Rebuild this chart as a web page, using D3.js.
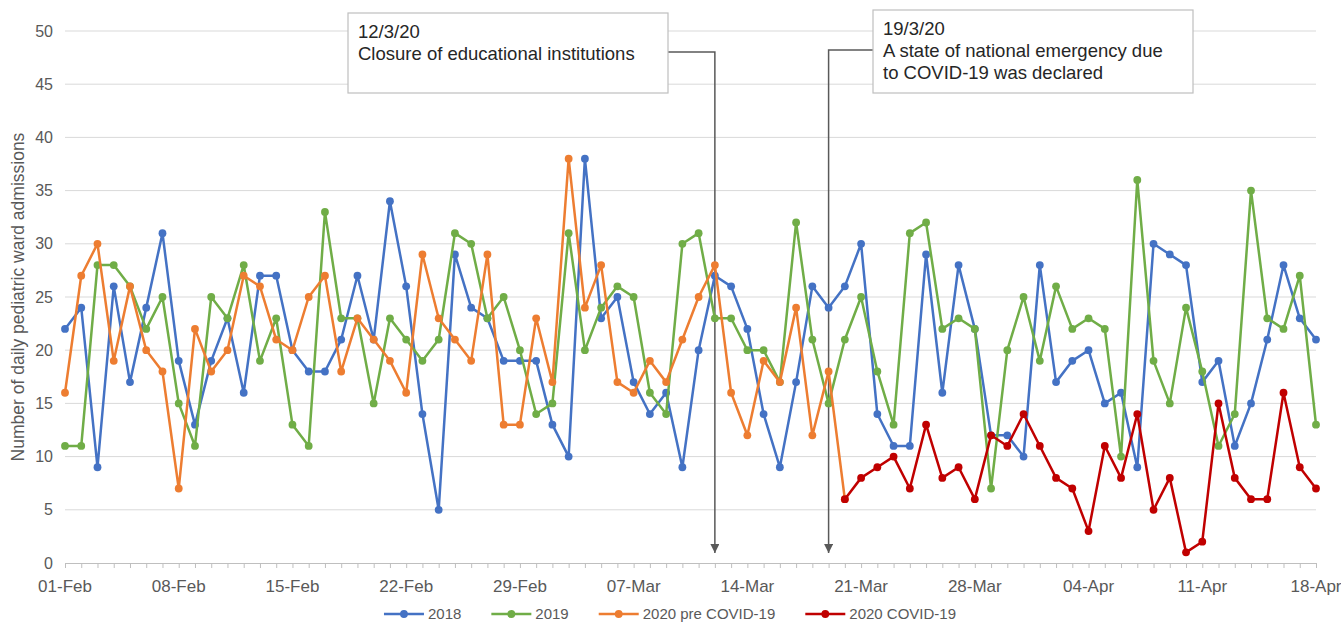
<!DOCTYPE html>
<html>
<head>
<meta charset="utf-8">
<script src="https://cdn.jsdelivr.net/npm/d3@7"></script>
<style>
  body { margin: 0; background: #fff; }
  svg { display: block; font-family: "Liberation Sans", Arial, sans-serif; }
</style>
</head>
<body>
<script>
// daily admissions, one value per day from 01-Feb
const firstDay = "2020-02-01";
const lastDay = "2020-04-18";

const s2018 = [22,24,9,26,17,24,31,19,13,19,
  23,16,27,27,20,18,18,21,27,21,
  34,26,14,5,29,24,23,19,19,19,
  13,10,38,23,25,17,14,16,9,20,
  27,26,22,14,9,17,26,24,26,30,
  14,11,11,29,16,28,22,12,12,10,
  28,17,19,20,15,16,9,30,29,28,
  17,19,11,15,21,28,23,21];

const s2019 = [11,11,28,28,26,22,25,15,11,25,
  23,28,19,23,13,11,33,23,23,15,
  23,21,19,21,31,30,23,25,20,14,
  15,31,20,24,26,25,16,14,30,31,
  23,23,20,20,17,32,21,15,21,25,
  18,13,31,32,22,23,22,7,20,25,
  19,26,22,23,22,10,36,19,15,24,
  18,11,14,35,23,22,27,13];

// 2020 before and after 20-Mar
const s2020pre = [16,27,30,19,26,20,18,7,22,18,
  20,27,26,21,20,25,27,18,23,21,
  19,16,29,23,21,19,29,13,13,23,
  17,38,24,28,17,16,19,17,21,25,
  28,16,12,19,17,24,12,18,6];
const covidFrom = "2020-03-20";
const s2020covid = [6,8,9,10,7,13,8,9,6,12,11,14,
  11,8,7,3,11,8,14,5,8,1,2,15,8,6,6,16,9,7];

const seriesNames = ["2018", "2019", "2020 pre COVID-19", "2020 COVID-19"];
const seriesColors = ["#4472c4", "#70ad47", "#ed7d31", "#c00000"];

const yTicks = [0,5,10,15,20,25,30,35,40,45,50];
const xTickLabels = ["01-Feb","08-Feb","15-Feb","22-Feb","29-Feb","07-Mar",
  "14-Mar","21-Mar","28-Mar","04-Apr","11-Apr","18-Apr"];

const events = [
  {date: "2020-03-12", lines: ["12/3/20", "Closure of educational institutions"]},
  {date: "2020-03-19", lines: ["19/3/20", "A state of national emergency due", "to COVID-19 was declared"]}
];

const W = 1341, H = 623;
const parse = d3.utcParse("%Y-%m-%d");
const days = d3.utcDay.range(parse(firstDay), d3.utcDay.offset(parse(lastDay), 1));
const covidIdx = days.findIndex(d => +d === +parse(covidFrom));

const x = d3.scaleUtc().domain([days[0], days[days.length - 1]]).range([65, 1316]);
const y = d3.scaleLinear().domain([0, 50]).range([563, 31]);

const svg = d3.select("body").append("svg")
    .attr("width", W)
    .attr("height", H);

svg.append("defs").append("marker")
    .attr("id", "arrow")
    .attr("viewBox", "0 0 10 10")
    .attr("refX", 5).attr("refY", 10)
    .attr("markerWidth", 9).attr("markerHeight", 10)
    .attr("markerUnits", "userSpaceOnUse")
    .attr("orient", "0")
  .append("path")
    .attr("d", "M0,0L10,0L5,10Z")
    .attr("fill", "#595959");

// grid
svg.append("g")
  .selectAll("line")
  .data(yTicks.filter(d => d > 0))
  .join("line")
    .attr("x1", x.range()[0]).attr("x2", x.range()[1])
    .attr("y1", d => y(d)).attr("y2", d => y(d))
    .attr("stroke", "#d9d9d9")
    .attr("stroke-width", 1);

// y labels
svg.append("g")
    .attr("fill", "#595959")
    .style("font-size", "16px")
  .selectAll("text")
  .data(yTicks)
  .join("text")
    .attr("x", 53)
    .attr("y", d => y(d))
    .attr("dy", "0.35em")
    .attr("text-anchor", "end")
    .text(d => d);

svg.append("text")
    .attr("transform", `translate(24,${y(25)}) rotate(-90)`)
    .attr("text-anchor", "middle")
    .attr("fill", "#595959")
    .style("font-size", "17.5px")
    .text("Number of daily pediatric ward admissions");

// x axis
const xAxis = svg.append("g")
    .attr("transform", `translate(0,${y(0)})`)
    .call(d3.axisBottom(x).tickValues(days).tickSize(5).tickFormat(""));
xAxis.select(".domain").attr("stroke", "#bfbfbf");
xAxis.selectAll(".tick line").attr("stroke", "#bfbfbf");

svg.append("g")
    .attr("fill", "#595959")
    .style("font-size", "17px")
  .selectAll("text")
  .data(xTickLabels)
  .join("text")
    .attr("x", (d, i) => x(days[i * 7]))
    .attr("y", 592)
    .attr("text-anchor", "middle")
    .text(d => d);

// annotations
const boxes = [
  {x: 348, y: 13, w: 320, h: 80, hook: 52, side: "right"},
  {x: 873, y: 10, w: 320, h: 83, hook: 50, side: "left"}
];
events.forEach((ev, i) => {
  const b = boxes[i];
  const ax = x(parse(ev.date));
  const sx = b.side === "right" ? b.x + b.w : b.x;
  svg.append("path")
      .attr("d", `M${sx},${b.hook}H${ax}V${y(0) - 10}`)
      .attr("fill", "none")
      .attr("stroke", "#595959")
      .attr("stroke-width", 1.5)
      .attr("marker-end", "url(#arrow)");
  svg.append("rect")
      .attr("x", b.x).attr("y", b.y)
      .attr("width", b.w).attr("height", b.h)
      .attr("fill", "#fff")
      .attr("stroke", "#bfbfbf")
      .attr("stroke-width", 1.2);
  svg.append("text")
      .attr("fill", "#262626")
      .style("font-size", "18.5px")
    .selectAll("tspan")
    .data(ev.lines)
    .join("tspan")
      .attr("x", b.x + 10)
      .attr("y", (d, j) => b.y + 25 + j * 22)
      .text(d => d);
});

// series
const series = [
  {values: s2018, start: 0},
  {values: s2019, start: 0},
  {values: s2020pre, start: 0},
  {values: s2020covid, start: covidIdx}
];
const line = d3.line()
    .x(d => x(d.date))
    .y(d => y(d.value));

series.forEach((s, i) => {
  const pts = s.values.map((v, j) => ({date: days[s.start + j], value: v}));
  const g = svg.append("g");
  g.append("path")
      .datum(pts)
      .attr("d", line)
      .attr("fill", "none")
      .attr("stroke", seriesColors[i])
      .attr("stroke-width", 2.5)
      .attr("stroke-linejoin", "round");
  g.selectAll("circle")
    .data(pts)
    .join("circle")
      .attr("cx", d => x(d.date))
      .attr("cy", d => y(d.value))
      .attr("r", 3.9)
      .attr("fill", seriesColors[i]);
});

// legend
const legend = svg.append("g")
    .style("font-size", "15px")
    .attr("fill", "#595959");
let lx = 0;
seriesNames.forEach((name, i) => {
  const g = legend.append("g").attr("transform", `translate(${lx},0)`);
  g.append("line")
      .attr("x1", 0).attr("x2", 40)
      .attr("stroke", seriesColors[i])
      .attr("stroke-width", 2.5);
  g.append("circle").attr("cx", 20).attr("r", 3.9).attr("fill", seriesColors[i]);
  const t = g.append("text").attr("x", 44).attr("dy", "0.35em").text(name);
  lx += 44 + t.node().getComputedTextLength() + 30;
});
const legendW = lx - 30;
legend.attr("transform", `translate(${670 - legendW / 2},614)`);
</script>
</body>
</html>
